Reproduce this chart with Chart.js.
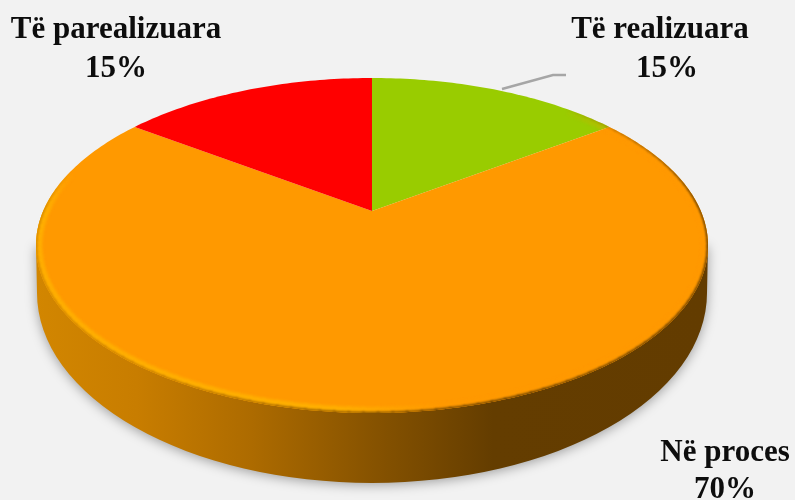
<!DOCTYPE html>
<html>
<head>
<meta charset="utf-8">
<style>
  html, body { margin: 0; padding: 0; background: #f2f2f2; }
  canvas { display: block; filter: blur(0.45px); }
</style>
<script src="https://cdn.jsdelivr.net/npm/chart.js@4"></script>
</head>
<body>
<canvas id="myChart" width="795" height="500"></canvas>
<script>
const categories = ['Të realizuara', 'Në proces', 'Të parealizuara']
const seriesValues = [15, 70, 15]
const sliceColors = ['#99cc00', '#ff9900', '#ff0000']

// where each label goes: [x centre, first baseline, x centre of %, second baseline]
const labelSpots = [
  [660, 38, 667, 77],
  [725, 461, 725, 498],
  [116, 38, 116, 77]
]

// top face is a tilted circle, so the centre of the pie is not the middle of the ellipse
const top3d = { x: 372, y: 211, a: 328.8, b: 160.4, k: -0.206 }
const rimCol = '#ffb000'

function project(angle) {
  const u = Math.cos(angle), v = Math.sin(angle)
  const d = 1 + top3d.k * v
  return [top3d.x + top3d.a * u / d, top3d.y + top3d.b * v / d]
}

function topOutline(ctx) {
  ctx.beginPath()
  for (let i = 0; i <= 360; i++) {
    const p = project(i * Math.PI / 180)
    ctx.lineTo(p[0], p[1])
  }
  ctx.closePath()
}

function wallGradient(ctx) {
  const g = ctx.createLinearGradient(36, 0, 708, 0)
  g.addColorStop(0, '#d28600')
  g.addColorStop(0.15, '#c87d00')
  g.addColorStop(0.32, '#ad6b00')
  g.addColorStop(0.5, '#875300')
  g.addColorStop(0.68, '#643d00')
  g.addColorStop(1, '#633c00')
  return g
}

function wallOutline(ctx) {
  ctx.beginPath()
  ctx.moveTo(36, 245)
  ctx.lineTo(37, 293)
  ctx.ellipse(372, 293, 335, 190, 0, Math.PI, 0, true)
  ctx.lineTo(708, 245)
  ctx.closePath()
}

// stroke a stretch of the top edge, fading in and out at both ends
function edgeStroke(ctx, from, to, style, width) {
  const steps = 120
  ctx.strokeStyle = style
  ctx.lineWidth = width
  ctx.lineCap = 'butt'
  for (let i = 0; i < steps; i++) {
    const t = i / steps
    ctx.globalAlpha = Math.min(1, t / 0.18, (1 - t) / 0.06)
    const a = project(from + (to - from) * t)
    const b = project(from + (to - from) * (t + 1.15 / steps))
    ctx.beginPath()
    ctx.moveTo(a[0], a[1])
    ctx.lineTo(b[0], b[1])
    ctx.stroke()
  }
  ctx.globalAlpha = 1
}

const pie3d = {
  id: 'pie3d',
  beforeDraw(chart) {
    const ctx = chart.ctx
    ctx.save()
    ctx.fillStyle = '#f2f2f2'
    ctx.fillRect(0, 0, chart.width, chart.height)
    ctx.restore()
  },
  beforeDatasetDraw(chart, args) {
    const ctx = chart.ctx
    const arcs = chart.getDatasetMeta(args.index).data

    // side wall with its soft shadow
    ctx.save()
    ctx.shadowColor = 'rgba(0,0,0,0.35)'
    ctx.shadowBlur = 12
    ctx.shadowOffsetY = 2
    wallOutline(ctx)
    ctx.fillStyle = wallGradient(ctx)
    ctx.fill()
    ctx.restore()

    // top face, slices from the arcs chart.js worked out
    arcs.forEach((arc) => {
      ctx.beginPath()
      ctx.moveTo(top3d.x, top3d.y)
      const n = Math.ceil((arc.endAngle - arc.startAngle) * 180 / Math.PI)
      for (let s = 0; s <= n; s++) {
        const p = project(arc.startAngle + (arc.endAngle - arc.startAngle) * s / n)
        ctx.lineTo(p[0], p[1])
      }
      ctx.closePath()
      ctx.fillStyle = arc.options.backgroundColor
      ctx.fill()
    })

    // bevel on the front edge
    ctx.save()
    topOutline(ctx)
    ctx.clip()
    const hi = ctx.createLinearGradient(36, 0, 708, 0)
    hi.addColorStop(0, rimCol)
    hi.addColorStop(0.45, rimCol)
    hi.addColorStop(0.6, '#ff9900')
    hi.addColorStop(1, '#ff9900')
    ctx.filter = 'blur(1.6px)'
    edgeStroke(ctx, -0.85, Math.PI + 0.25, hi, 12)
    ctx.filter = 'blur(1.2px)'
    edgeStroke(ctx, -0.85, Math.PI + 0.25, wallGradient(ctx), 2.4)
    ctx.restore()

    return false
  },
  afterDatasetsDraw(chart) {
    const ctx = chart.ctx
    ctx.save()
    // leader line for the green slice
    ctx.beginPath()
    ctx.moveTo(502, 89)
    ctx.lineTo(553, 75)
    ctx.lineTo(566, 75)
    ctx.strokeStyle = '#a6a6a6'
    ctx.lineWidth = 2.4
    ctx.stroke()

    ctx.font = 'bold 31px "Liberation Serif"'
    ctx.fillStyle = '#0d0d0d'
    ctx.textAlign = 'center'
    categories.forEach((name, i) => {
      const s = labelSpots[i]
      ctx.fillText(name, s[0], s[1])
      ctx.fillText(seriesValues[i] + '%', s[2], s[3])
    })
    ctx.restore()
  }
}

new Chart(document.getElementById('myChart').getContext('2d'), {
  type: 'pie',
  data: {
    labels: categories,
    datasets: [{
      data: seriesValues,
      backgroundColor: sliceColors,
      borderWidth: 0
    }]
  },
  options: {
    responsive: false,
    animation: false,
    plugins: {
      legend: { display: false },
      tooltip: { enabled: false }
    }
  },
  plugins: [pie3d]
})
</script>
</body>
</html>
